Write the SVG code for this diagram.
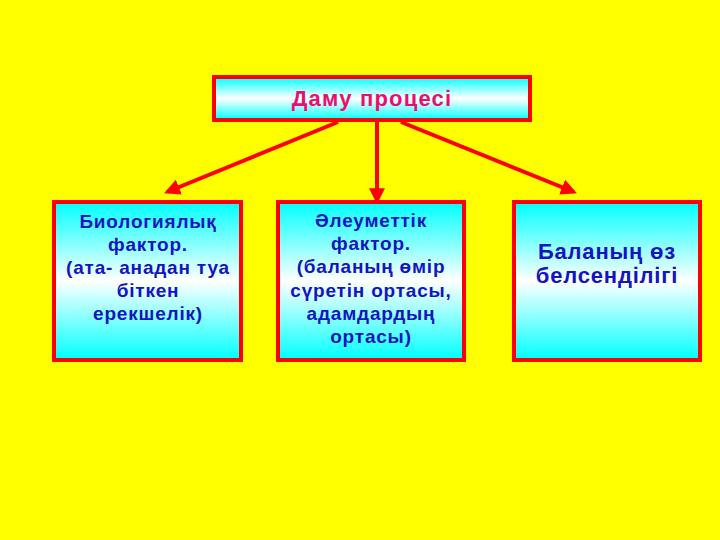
<svg xmlns="http://www.w3.org/2000/svg" width="720" height="540" viewBox="0 0 720 540">
<defs>
<linearGradient id="g" x1="0" y1="0" x2="0" y2="1">
<stop offset="0" stop-color="#00FFFF"/>
<stop offset="0.5" stop-color="#FFFFFF"/>
<stop offset="1" stop-color="#00FFFF"/>
</linearGradient>
<marker id="ah" markerWidth="4" markerHeight="4" refX="3.2" refY="2" orient="auto" markerUnits="strokeWidth">
<path d="M0,0 L4,2 L0,4 z" fill="#FF0000"/>
</marker>
</defs>
<style>
.box{fill:url(#g);stroke:#FF0000;stroke-width:4}
.t{font-family:"Liberation Sans",Arial,sans-serif;font-weight:bold;text-anchor:middle;fill:#1414C0}
.s{font-size:19px;letter-spacing:0.8px}
.b{font-size:22px;letter-spacing:0.8px}
.conn{stroke:#FF0000;stroke-width:4;fill:none;marker-end:url(#ah)}
</style>
<rect width="720" height="540" fill="#FFFF00"/>
<g id="connectors">
<line class="conn" x1="338" y1="122" x2="167" y2="192"/>
<line class="conn" x1="377" y1="122" x2="377" y2="201"/>
<line class="conn" x1="401" y1="122" x2="574" y2="192"/>
</g>
<g id="root">
<rect class="box" x="214" y="77" width="316" height="43"/>
<text x="372" y="106" font-family="Liberation Sans,Arial,sans-serif" font-weight="bold" font-size="22" letter-spacing="1.2" text-anchor="middle" fill="#E8106E">Даму процесі</text>
</g>
<g id="bio">
<rect class="box" x="54" y="202" width="187" height="158"/>
<text class="t s" x="148" y="228">Биологиялық</text>
<text class="t s" x="148" y="251">фактор.</text>
<text class="t s" x="148" y="274">(ата- анадан туа</text>
<text class="t s" x="148" y="297">біткен</text>
<text class="t s" x="148" y="320">ерекшелік)</text>
</g>
<g id="social">
<rect class="box" x="278" y="202" width="186" height="158"/>
<text class="t s" x="371" y="227">Әлеуметтік</text>
<text class="t s" x="371" y="250">фактор.</text>
<text class="t s" x="371" y="273">(баланың өмір</text>
<text class="t s" x="371" y="297">сүретін ортасы,</text>
<text class="t s" x="371" y="320">адамдардың</text>
<text class="t s" x="371" y="343">ортасы)</text>
</g>
<g id="self">
<rect class="box" x="514" y="202" width="186" height="158"/>
<text class="t b" x="607" y="259">Баланың өз</text>
<text class="t b" x="607" y="283">белсенділігі</text>
</g>
</svg>
